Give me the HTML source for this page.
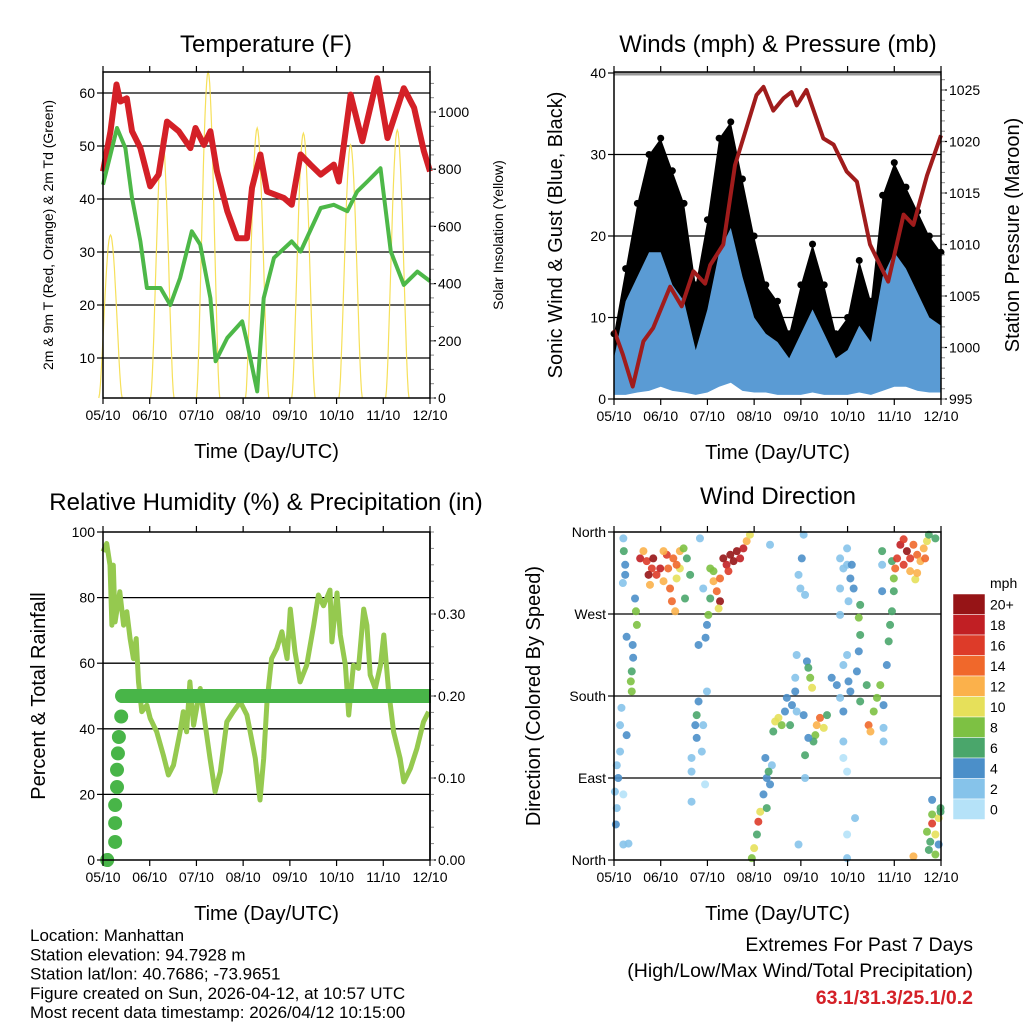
<!DOCTYPE html>
<html><head><meta charset="utf-8"><style>
html,body{margin:0;padding:0;background:#fff;}
svg{display:block;font-family:"Liberation Sans",Arial,sans-serif;}
</style></head><body>
<svg id="c" width="1024" height="1024" viewBox="0 0 1024 1024" xmlns="http://www.w3.org/2000/svg"></svg>
<script>
// ---------- DATA ----------
const xTickLabels = ["05/10","06/10","07/10","08/10","09/10","10/10","11/10","12/10"];
// Temperature panel
const tempDay = [0,0.16,0.29,0.37,0.51,0.62,0.8,1.01,1.19,1.37,1.62,1.87,1.98,2.16,2.3,2.44,2.66,2.87,3.08,3.19,3.37,3.51,3.87,4.04,4.23,4.44,4.66,4.94,5.05,5.3,5.55,5.87,6.09,6.44,6.66,6.87,7.0];
const tempVal = [45.2,52.8,61.6,58.4,59,52.8,49.6,42.4,44.6,54.6,52.8,49.6,53.4,50.2,52.8,45.2,37.7,32.6,32.6,42.1,48.4,41.4,40.2,38.9,48.4,46.5,44.6,46.5,43.3,59.7,50.9,62.8,51.5,60.9,57.2,49,45.2];
const dewDay = [0,0.16,0.3,0.48,0.62,0.8,0.94,1.23,1.44,1.65,1.9,2.08,2.3,2.41,2.66,2.98,3.08,3.3,3.44,3.66,4.04,4.23,4.66,4.94,5.23,5.44,5.66,5.94,6.16,6.44,6.73,7.0];
const dewVal = [42.7,48.4,53.4,49.6,40.2,32,23.2,23.2,20,25.1,33.9,31.4,21.3,9.4,13.8,16.9,13.1,3.7,21.3,28.9,32,30.1,38.3,38.9,37.7,41.4,43.3,45.8,30.1,23.8,26.3,24.5];
const solarPeakDay = [0.16,1.27,2.25,3.3,4.29,5.3,6.3];
const solarPeakVal = [570,914,1140,944,926,885,937];
const tempTicks = [10,20,30,40,50,60];
const solarTicks = [0,200,400,600,800,1000];
// Winds panel (quarter-day steps)
const windDay = [0,0.25,0.5,0.75,1,1.25,1.5,1.75,2,2.25,2.5,2.75,3,3.25,3.5,3.75,4,4.25,4.5,4.75,5,5.25,5.5,5.75,6,6.25,6.5,6.75,7];
const gustHi = [8,16,24,30,32,28,24,14,22,32,34,27,20,14,12,8,14,19,14,8,10,17,12,25,29,26,23,20,18];
const gustLo = [2,3,6,8,10,9,6,3,5,10,12,8,6,4,3,2,3,6,4,2,3,4,3,8,10,10,8,7,6];
const windHi = [5,12,15,18,18,14,12,6,11,18,21,15,10,8,7,5,8,11,8,5,6,9,7,15,18,16,13,10,9];
const windLo = [0.5,0.5,0.8,1,1.5,1,0.8,0.5,0.8,1.5,2,1,0.8,0.8,0.5,0.5,0.5,0.8,0.5,0.5,0.5,0.8,0.5,1,1.5,1.5,1,0.8,0.8];
const presDay = [0,0.19,0.4,0.63,0.84,1.2,1.45,1.7,1.95,2.06,2.34,2.59,2.84,3.05,3.2,3.41,3.63,3.8,3.91,4.12,4.48,4.7,4.98,5.2,5.48,5.87,6.2,6.41,6.7,7.0];
const presVal = [1001.7,999.3,996.2,1000.6,1001.9,1005.9,1004,1007.4,1006.2,1008,1010,1017.7,1021.4,1024.5,1025.3,1023,1024.2,1024.8,1023.5,1025,1020.3,1019.7,1017.1,1016.1,1010,1006.4,1012.9,1011.9,1016.7,1020.6];
const mphTicks = [0,10,20,30,40];
const presTicks = [995,1000,1005,1010,1015,1020,1025];
// RH panel
const rhDay = [0,0.08,0.15,0.19,0.22,0.26,0.36,0.44,0.51,0.58,0.65,0.71,0.76,0.83,0.94,1.01,1.15,1.29,1.4,1.51,1.65,1.72,1.79,1.86,1.94,2.08,2.19,2.29,2.4,2.51,2.65,2.79,2.94,3.08,3.15,3.26,3.36,3.44,3.51,3.61,3.72,3.83,3.94,4.01,4.11,4.22,4.36,4.51,4.61,4.72,4.86,4.9,5.01,5.08,5.19,5.26,5.36,5.47,5.58,5.65,5.72,5.83,5.94,6.01,6.11,6.22,6.36,6.44,6.58,6.72,6.86,6.97];
const rhVal = [94,96.5,89.9,71.6,89.9,72.6,81.8,71.6,75.7,67.5,61.4,67.5,54.3,45.2,47.2,43.2,39.1,32,25.9,28.9,39.1,45.2,39.1,54.3,41.1,52.3,41.1,31,20.8,26.9,42.1,45.2,48.2,44.2,39.1,31,18.3,31,48.2,61.4,64.5,69.6,61.4,76.5,63.5,54.3,59.4,71.6,80.8,77.5,82.3,66.5,81.4,68.6,59.4,44.2,59.4,58.4,76.5,71.6,56.4,52.3,59.4,68.6,52.3,39.1,31,23.8,27.9,34,42.1,45.2];
const rainDay = [0.09,0.26,0.26,0.26,0.3,0.3,0.32,0.34,0.39,0.41];
const rainVal = [0,0.022,0.045,0.067,0.089,0.11,0.13,0.15,0.175,0.2];
const rainFinal = 0.2;
const rhTicks = [0,20,40,60,80,100];
const rainTicks = [0,0.1,0.2,0.3];
// Wind direction panel: [day, direction deg, speed mph]
const dirObs = [
[0.2,353,2],[0.21,339,6],[0.24,324,4],[0.24,313,4],[0.19,304,2],[0.45,287,4],[0.47,273,8],[0.49,258,8],[0.27,245,4],[0.4,236,4],[0.41,222,4],[0.38,207,6],[0.36,196,8],[0.38,185,8],
[0.56,331,18],[0.7,328,16],[0.84,331,20],[0.99,320,18],[1.13,335,16],[1.27,331,14],[1.41,339,12],[1.49,342,8],[1.56,331,6],[0.91,313,16],[1.06,306,12],[1.2,298,14],[0.77,302,12],[1.34,309,10],[1.24,284,14],[1.31,273,12],[0.63,339,12],[0.81,320,16],[1.16,320,14],[1.41,320,10],[1.52,287,6],[1.63,313,6],[1.06,339,12],[1.34,324,14],[0.74,313,20],
[2.06,320,8],[2.13,306,12],[2.2,295,14],[2.27,284,20],[2.34,331,20],[2.49,335,20],[2.63,339,20],[2.77,342,18],[2.84,350,12],[2.91,357,10],[2.41,324,18],[2.56,328,20],[2.7,331,18],[2.27,309,14],[2.06,287,6],[2.02,269,8],[1.99,258,4],[2.45,317,16],[2.24,276,10],[2.13,317,8],[1.91,298,2],[1.84,353,2],[1.81,236,4],[1.96,244,4],
[0.16,167,2],[0.13,148,2],[0.27,137,4],[0.13,119,2],[0.06,104,2],[0.09,90,4],[0.02,75,2],[0.06,57,2],[0.04,39,4],[0.2,17,2],[0.31,18,2],[0.2,72,0],
[1.81,174,4],[1.77,159,6],[1.74,148,4],[1.91,148,2],[1.77,134,4],[1.88,119,2],[1.66,112,2],[1.66,97,2],[1.95,83,0],[1.66,64,2],[1.99,185,2],
[2.95,2,8],[3.0,13,10],[3.06,28,6],[3.09,42,16],[3.13,53,10],[3.27,57,6],[3.2,72,4],[3.27,90,4],[3.38,104,2],[3.24,112,4],[3.31,97,6],[3.34,83,4],[3.41,141,6],[3.45,152,10],[3.59,148,8],[3.66,163,4],[3.7,178,4],[3.81,170,4],[3.91,163,2],[3.52,156,10],[3.77,148,6],[3.88,185,4],
[3.91,225,2],[4.13,218,4],[4.16,211,6],[4.2,200,8],[4.24,189,10],[4.06,159,4],[4.34,148,12],[4.41,156,14],[4.49,145,10],[4.31,137,8],[4.27,130,6],[4.56,159,6],[4.09,115,6],[4.16,134,4],[4.09,90,2],[3.88,200,2],
[4.66,200,4],[4.77,192,4],[4.84,178,2],[4.91,163,4],[4.91,130,2],[5.02,196,4],[5.06,185,4],[5.2,207,4],[5.27,174,6],[5.41,192,6],[5.45,148,14],[5.49,141,12],[5.56,163,8],[5.63,178,8],[5.7,192,8],[5.77,170,4],[5.77,145,2],[5.77,130,2],[5.84,214,4],[5.88,240,6],[5.91,258,6],[5.95,273,6],[5.99,295,6],[5.99,309,8],[5.95,328,6],[5.74,339,6],[5.74,324,2],[5.74,295,4],[5.24,229,4],[5.27,247,6],[5.24,266,8],[5.27,280,6],[5.06,309,4],[4.99,324,2],[4.91,320,2],[4.84,298,2],[5.13,298,4],[5.09,324,4],[4.99,342,2],[4.84,331,2],[5.02,284,2],[4.84,269,2],[4.99,225,2],[4.91,112,0],[4.99,97,0],[5.16,46,2],[4.99,28,0],[4.99,2,2],[3.95,17,2],[4.06,357,2],[4.02,331,4],[3.95,313,2],[3.99,298,2],[4.09,291,2],[3.34,346,2],[4.91,214,2],
[6.06,331,16],[6.13,346,18],[6.2,324,16],[6.27,339,20],[6.34,331,16],[6.41,346,14],[6.49,335,14],[6.56,328,12],[6.63,342,12],[6.7,350,10],[6.74,357,6],[6.88,353,6],[6.34,317,12],[6.45,308,10],[6.02,320,14],[6.2,352,16],[6.49,315,12],[6.66,331,14],
[6.81,50,8],[6.81,40,16],[6.95,46,10],[6.99,53,6],[6.7,31,8],[6.88,28,10],[6.77,20,6],[6.95,17,4],[6.74,11,6],[6.88,6,8],[6.81,66,4],[6.41,4,12],[6.99,57,6]
];
const dirTicks = [0,90,180,270,360];
const dirTickLabels = ["North","East","South","West","North"];
const speedBins = [0,2,4,6,8,10,12,14,16,18,20];
const speedLabels = ["0","2","4","6","8","10","12","14","16","18","20+"];
const speedColors = ["#b5e2f8","#86c3ea","#4b8fc9","#4aa66b","#7dc143","#e6e05a","#fbb14b","#f0682b","#dd3b29","#c11f24","#961416"];

// ---------- HELPERS ----------
const NS="http://www.w3.org/2000/svg";
const svg=document.getElementById('c');
function el(tag,attrs,parent){const e=document.createElementNS(NS,tag);for(const k in attrs)e.setAttribute(k,attrs[k]);(parent||svg).appendChild(e);return e;}
function txt(x,y,s,size,anchor,parent,extra){const t=el('text',Object.assign({x:x,y:y,'font-size':size,'text-anchor':anchor||'middle',fill:'#000'},extra||{}),parent);t.textContent=s;return t;}
function lin(d0,d1,p0,p1){return v=>p0+(v-d0)*(p1-p0)/(d1-d0);}
function colorFor(s){let i=0;for(let k=0;k<speedBins.length;k++){if(s>=speedBins[k])i=k;}return speedColors[i];}

function frame(name,x0,y0,x1,y1){
  const g=el('g',{});
  
  
  el('rect',{x:x0,y:y0,width:x1-x0,height:y1-y0,fill:'none',stroke:'#000','stroke-width':1.5},g);
  const sx=lin(0,7,x0,x1);
  for(let i=0;i<xTickLabels.length;i++){
    const x=sx(i);
    el('line',{x1:x,y1:y1,x2:x,y2:y1+6,stroke:'#000','stroke-width':1.2},g);
    el('line',{x1:x,y1:y0,x2:x,y2:y0-6,stroke:'#000','stroke-width':1.2},g);
    const t=txt(x,y1+22,xTickLabels[i],14,'middle',g);
    
    
  }
  const xt=txt((x0+x1)/2,y1+60,'Time (Day/UTC)',20,'middle',g);
  
  
  return sx;
}
function hgrid(g,x0,x1,ys,color,w){ys.forEach(y=>el('line',{x1:x0,y1:y,x2:x1,y2:y,stroke:color||'#000','stroke-width':w||1.3},g));}
function poly(pts,attrs,parent){return el('polyline',Object.assign({points:pts.map(p=>p[0].toFixed(1)+','+p[1].toFixed(1)).join(' '),fill:'none'},attrs),parent);}
function leftTicks(g,x0,ys,labels,size){ys.forEach((y,i)=>{el('line',{x1:x0,y1:y,x2:x0-6,y2:y,stroke:'#000','stroke-width':1.2},g);txt(x0-8,y+5,labels[i],size||14,'end',g);});}
function rightTicks(g,x1,ys,labels,size){ys.forEach((y,i)=>{el('line',{x1:x1,y1:y,x2:x1+6,y2:y,stroke:'#000','stroke-width':1.2},g);txt(x1+8,y+5,labels[i],size||14,'start',g);});}
function minor(g,x,y0,y1,step,dir){for(let y=y0;y>=y1;y-=step){el('line',{x1:x,y1:y,x2:x+dir*4,y2:y,stroke:'#888','stroke-width':1},g);}}

// ---------- PANEL 1: TEMPERATURE ----------
(function(){
  const X0=103,X1=430,Y0=72,Y1=398;
  const g=el('g',{});
  
  
  const sy=lin(0,60,411,93);
  const ss=lin(0,1000,398,112);
  const sx=lin(0,7,X0,X1);
  hgrid(g,X0,X1,tempTicks.map(sy));
  const sg=el('g',{},g);
  
  
  solarPeakDay.forEach((d,i)=>{
    const pts=[];
    for(let k=0;k<=30;k++){const f=k/30;const dd=d-0.25+0.5*f;const v=solarPeakVal[i]*Math.pow(Math.sin(Math.PI*f),1.6);pts.push([sx(dd),ss(v)]);}
    poly(pts,{stroke:'#f6e05a','stroke-width':1.2},sg);
  });
  const tl=poly(tempDay.map((d,i)=>[sx(d),sy(tempVal[i])]),{stroke:'#d42027','stroke-width':6,'stroke-linejoin':'round'},g);
  
  
  const dl=poly(dewDay.map((d,i)=>[sx(d),sy(dewVal[i])]),{stroke:'#4db848','stroke-width':4,'stroke-linejoin':'round'},g);
  
  
  frame('temperature',X0,Y0,X1,Y1);
  leftTicks(g,X0,tempTicks.map(sy),tempTicks.map(String));
  rightTicks(g,X1,solarTicks.map(ss),solarTicks.map(String));
  minor(g,X1,398,Y0,14.3,1);
  const t=txt(266,52,'Temperature (F)',24,'middle',g);
  
  
  const yl=txt(0,0,'2m & 9m T (Red, Orange) & 2m Td (Green)',14,'middle',g,{transform:'translate(53,235) rotate(-90)'});
  
  
  const yr=txt(0,0,'Solar Insolation (Yellow)',14,'middle',g,{transform:'translate(503,235) rotate(-90)'});
  
  
})();

// ---------- PANEL 2: WINDS ----------
(function(){
  const X0=614,X1=941,Y0=72,Y1=399;
  const g=el('g',{});
  
  
  const sy=lin(0,40,399,73);
  const sp=lin(995,1025,399,90);
  const sx=lin(0,7,X0,X1);
  hgrid(g,X0,X1,[10,20,30].map(sy));
  el('line',{x1:X0,y1:74,x2:X1,y2:74,stroke:'#999','stroke-width':3},g);
  const up=windDay.map((d,i)=>[sx(d),sy(gustHi[i])]);
  const dn=windDay.map((d,i)=>[sx(d),sy(gustLo[i])]).reverse();
  const gp=el('polygon',{points:up.concat(dn).map(p=>p.join(',')).join(' '),fill:'#000'},g);
  
  
  windDay.forEach((d,i)=>{
    const c=el('circle',{cx:sx(d),cy:sy(gustHi[i]),r:3.5,fill:'#000'},g);
    
    
  });
  const bu=windDay.map((d,i)=>[sx(d),sy(windHi[i])]);
  const bd=windDay.map((d,i)=>[sx(d),sy(windLo[i])]).reverse();
  const wp=el('polygon',{points:bu.concat(bd).map(p=>p.join(',')).join(' '),fill:'#5a9bd4'},g);
  
  
  const pl=poly(presDay.map((d,i)=>[sx(d),sp(presVal[i])]),{stroke:'#a01c1c','stroke-width':4,'stroke-linejoin':'round'},g);
  
  
  frame('winds',X0,Y0,X1,Y1);
  leftTicks(g,X0,mphTicks.map(sy),mphTicks.map(String));
  rightTicks(g,X1,presTicks.map(sp),presTicks.map(String));
  minor(g,X1,399,Y0,10.3,1);
  const t=txt(778,52,'Winds (mph) & Pressure (mb)',24,'middle',g);
  
  
  const yl=txt(0,0,'Sonic Wind & Gust (Blue, Black)',20,'middle',g,{transform:'translate(562,235) rotate(-90)'});
  
  
  const yr=txt(0,0,'Station Pressure (Maroon)',20,'middle',g,{transform:'translate(1019,235) rotate(-90)'});
  
  
})();

// ---------- PANEL 3: RH ----------
(function(){
  const X0=103,X1=430,Y0=532,Y1=860;
  const g=el('g',{});
  
  
  const sy=lin(0,100,860,532);
  const sr=lin(0,0.1,860,778);
  const sx=lin(0,7,X0,X1);
  hgrid(g,X0,X1,[20,40,60,80].map(sy));
  const rl=poly(rhDay.map((d,i)=>[sx(d),sy(rhVal[i])]),{stroke:'#95c94f','stroke-width':5,'stroke-linejoin':'round'},g);
  
  
  rainDay.forEach((d,i)=>{
    const c=el('circle',{cx:sx(d),cy:sr(rainVal[i]),r:7,fill:'#48b548'},g);
    
    
  });
  el('rect',{x:sx(0),y:sr(0)-7,width:sx(0.22)-sx(0),height:14,rx:7,fill:'#48b548'},g);
  const rb=el('line',{x1:sx(rainDay[rainDay.length-1]),y1:sr(rainFinal),x2:X1,y2:sr(rainFinal),stroke:'#48b548','stroke-width':14,'stroke-linecap':'round'},g);
  
  
  frame('humidity',X0,Y0,X1,Y1);
  el('rect',{x:X1+1,y:Y0-10,width:14,height:Y1-Y0+20,fill:'#fff'},g);
  el('line',{x1:X1,y1:Y0,x2:X1,y2:Y1,stroke:'#000','stroke-width':1.5},g);
  leftTicks(g,X0,rhTicks.map(sy),rhTicks.map(String));
  rightTicks(g,X1,rainTicks.map(sr),rainTicks.map(v=>v.toFixed(2)));
  minor(g,X1,860,Y0,16.4,1);
  const t=txt(266,510,'Relative Humidity (%) & Precipitation (in)',24,'middle',g);
  
  
  const yl=txt(0,0,'Percent & Total Rainfall',20,'middle',g,{transform:'translate(45,696) rotate(-90)'});
  
  
})();

// ---------- PANEL 4: WIND DIRECTION ----------
(function(){
  const X0=614,X1=941,Y0=532,Y1=860;
  const g=el('g',{});
  
  
  const sy=lin(0,360,860,532);
  const sx=lin(0,7,X0,X1);
  hgrid(g,X0,X1,[90,180,270].map(sy));
  dirObs.forEach(o=>{
    const c=el('circle',{cx:sx(o[0]),cy:sy(o[1]),r:4,fill:colorFor(o[2]),'fill-opacity':0.9},g);
    
    
  });
  frame('wind-direction',X0,Y0,X1,Y1);
  leftTicks(g,X0,dirTicks.map(sy),dirTickLabels);
  const t=txt(778,504,'Wind Direction',24,'middle',g);
  
  
  const yl=txt(0,0,'Direction (Colored By Speed)',20,'middle',g,{transform:'translate(540,696) rotate(-90)'});
  
  
  const cb=el('g',{},g);
  
  
  const bh=20.5, top=594;
  for(let i=0;i<speedColors.length;i++){
    const idx=speedColors.length-1-i;
    const r=el('rect',{x:953,y:top+i*bh,width:32,height:bh,fill:speedColors[idx],stroke:'#fff','stroke-width':0.5},cb);
    
    
    txt(990,top+i*bh+bh/2+5,speedLabels[idx],14,'start',cb);
  }
  txt(990,588,'mph',14,'start',cb);
})();

// ---------- FOOTER ----------
(function(){
  const g=el('g',{});
  
  
  const lines=["Location: Manhattan","Station elevation: 94.7928 m","Station lat/lon: 40.7686; -73.9651","Figure created on Sun, 2026-04-12, at 10:57 UTC","Most recent data timestamp: 2026/04/12 10:15:00"];
  lines.forEach((s,i)=>txt(30,941+i*19.25,s,17,'start',g));
  const h=el('g',{});
  
  
  txt(973,951,'Extremes For Past 7 Days',19.5,'end',h);
  txt(973,977,'(High/Low/Max Wind/Total Precipitation)',19.5,'end',h);
  txt(973,1004,'63.1/31.3/25.1/0.2',19.5,'end',h,{fill:'#d42027','font-weight':'bold'});
})();
</script>
</body></html>
